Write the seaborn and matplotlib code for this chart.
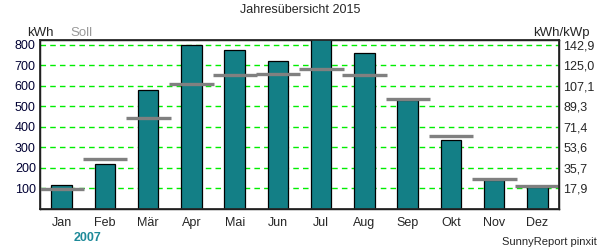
import matplotlib
matplotlib.use("Agg")
import matplotlib.pyplot as plt
import seaborn as sns
import pandas as pd
import numpy as np

months = ["Jan", "Feb", "Mär", "Apr", "Mai", "Jun", "Jul", "Aug", "Sep", "Okt", "Nov", "Dez"]
ertrag = [117, 219, 578, 798, 774, 721, 830, 760, 531, 336, 143, 108]
soll = [98, 244, 446, 610, 654, 660, 682, 654, 538, 354, 148, 114]
left_ticks = [100, 200, 300, 400, 500, 600, 700, 800]
kwp = 5.6

sns.set_theme(style="white")
plt.rcParams['font.family'] = ['Liberation Sans', 'DejaVu Sans']

df = pd.DataFrame({"Monat": months, "kWh": ertrag})

fig = plt.figure(figsize=(6, 2.5), dpi=100)
ax = fig.add_axes([40/600, 1-209/250, 519/600, 169/250])

sns.barplot(data=df, x="Monat", y="kWh", color="#137f86", saturation=1,
            width=0.47, edgecolor="black", linewidth=0.9, ax=ax, zorder=3)

xs = np.arange(len(months))
ax.hlines(soll, xs - 0.51, xs + 0.52, color="#808080", linewidth=2.4, zorder=4)

ax.set_xlim(-0.5, 11.5)
ax.set_ylim(0, 824)
ax.set_yticks(left_ticks)
ax.set_yticklabels([str(t) for t in left_ticks], fontsize=9, color="#000033")
ax.tick_params(axis="both", length=0, pad=3)
ax.tick_params(axis="x", labelsize=9, pad=6)
ax.set_xlabel("")
ax.set_ylabel("")
ax.yaxis.grid(True, color="#00ee00", linestyle=(0, (4, 3)), linewidth=1, zorder=0)
ax.set_axisbelow(True)
for s in ax.spines.values():
    s.set_color("black")
    s.set_linewidth(1)

ax2 = ax.twinx()
ax2.set_ylim(0, 824)
ax2.set_yticks(left_ticks)
ax2.set_yticklabels([f"{t/kwp:.1f}".replace(".", ",") for t in left_ticks], fontsize=9)
ax2.tick_params(axis="y", length=0, pad=3)
ax2.grid(False)

fig.text(0.5, 1-10/250, "Jahresübersicht 2015", ha="center", va="center", fontsize=9)
fig.text(27/600, 1-33/250, "kWh", ha="left", va="center", fontsize=9.5)
fig.text(70/600, 1-33/250, "Soll", ha="left", va="center", fontsize=9.5, color="#999999")
fig.text(590/600, 1-33/250, "kWh/kWp", ha="right", va="center", fontsize=9.5)
fig.text(87.5/600, 1-238/250, "2007", ha="center", va="center", fontsize=9,
         color="#1e8a99", fontweight="bold")
fig.text(597/600, 1-242/250, "SunnyReport pinxit", ha="right", va="center", fontsize=8)

fig.savefig("out.png", dpi=100, facecolor="white")
